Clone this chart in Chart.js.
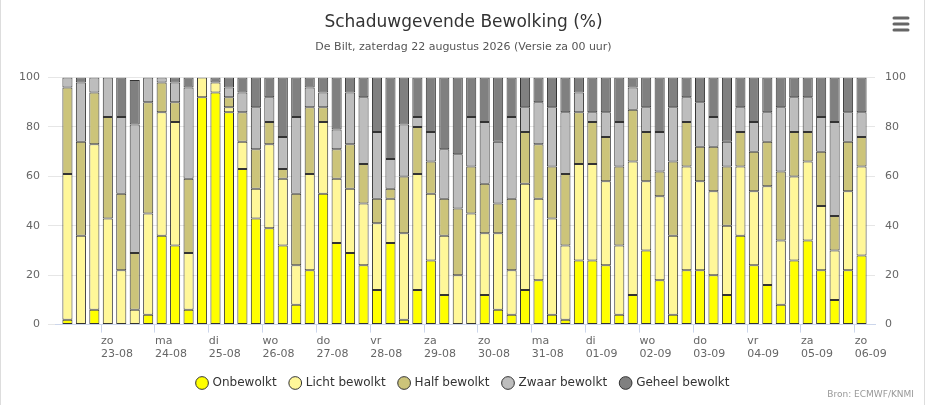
<!DOCTYPE html>
<html>
<head>
<meta charset="utf-8">
<script src="https://cdn.jsdelivr.net/npm/chart.js@4"></script>
<style>
    html, body { margin: 0; padding: 0; background: #fff; }
    #wrap { position: relative; width: 925px; height: 405px; box-sizing: border-box; border-left: 1px solid #ddd; border-right: 1px solid #ddd; }
    canvas { display: block; }
</style>
</head>
<body>
<div id="wrap"><canvas id="chart" width="923" height="405"></canvas></div>
<script>
// Day labels (tick between 18h and 00h bar)
const dayLabels = [
    ['zo', '23-08'], ['ma', '24-08'], ['di', '25-08'], ['wo', '26-08'], ['do', '27-08'],
    ['vr', '28-08'], ['za', '29-08'], ['zo', '30-08'], ['ma', '31-08'], ['di', '01-09'],
    ['wo', '02-09'], ['do', '03-09'], ['vr', '04-09'], ['za', '05-09'], ['zo', '06-09']
];
const yTicks = [0, 20, 40, 60, 80, 100];

// 6-hourly cloud cover (%) per class
const onbewolkt = [2,0,6,0,0,0,4,36,32,6, 92,94,86,63,43,39,32,8,22,53, 33,29,24,14,33,2,14,26,12,0,
                   0,12,6,4,14,18,4,2,26,26, 24,4,12,30,18,4,22,22,20,12, 36,24,16,8,26,34,22,10,22,28];
const licht     = [59,36,67,43,22,6,41,50,50,23, 8,4,2,11,12,34,27,16,39,29, 26,26,25,27,18,35,47,27,24,20,
                   45,25,31,18,43,33,39,30,39,39, 34,28,54,28,34,32,42,36,34,28, 28,30,40,26,34,32,26,20,32,36];
const half      = [35,38,21,41,31,23,45,12,8,30, 0,0,4,12,16,9,4,29,27,6, 12,18,16,10,4,23,19,13,15,27,
                   19,20,12,29,21,22,21,29,21,17, 18,32,21,20,10,30,18,14,18,24, 14,16,18,28,18,12,22,14,20,12];
const zwaar     = [4,24,6,16,31,52,10,2,8,37, 0,0,4,8,17,10,13,31,8,6, 8,21,27,27,12,21,4,12,20,22,
                   20,25,25,33,10,17,24,25,8,4, 10,18,9,10,16,22,10,18,12,10, 10,12,12,26,14,14,14,38,12,10];
const geheel    = [0,2,0,0,16,18,0,0,2,4, 0,2,4,6,12,8,24,16,4,6, 21,6,8,22,33,19,16,22,29,31,
                   16,18,26,16,12,10,12,14,6,14, 14,18,4,12,22,12,8,10,16,26, 12,18,14,12,8,8,16,18,14,14];

const dayTicks = dayLabels.map((_, i) => 2.5 + i * 4);

function series(label, values, color) {
    return {
        label,
        data: values.map((v, i) => ({ x: i, y: v })),
        backgroundColor: color,
        borderColor: '#333333',
        borderWidth: 1,
        borderSkipped: false,
        barPercentage: 0.75,
        categoryPercentage: 1
    };
}

const extras = {
    id: 'extras',
    afterDraw(chart) {
        const ctx = chart.ctx;
        ctx.save();
        ctx.fillStyle = '#999';
        ctx.font = '9px "DejaVu Sans"';
        ctx.textAlign = 'right';
        ctx.textBaseline = 'alphabetic';
        ctx.fillText('Bron: ECMWF/KNMI', 913, 397);
        // menu icon
        ctx.strokeStyle = '#666';
        ctx.lineWidth = 3;
        ctx.lineCap = 'round';
        [18, 24, 30].forEach(y => {
            ctx.beginPath(); ctx.moveTo(893, y); ctx.lineTo(907, y); ctx.stroke();
        });
        ctx.restore();
    }
};

const axisFont = { family: 'DejaVu Sans', size: 11 };

new Chart(document.getElementById('chart'), {
    type: 'bar',
    data: {
        datasets: [
            series('Onbewolkt', onbewolkt, '#ffff00'),
            series('Licht bewolkt', licht, '#fff799'),
            series('Half bewolkt', half, '#ccc47a'),
            series('Zwaar bewolkt', zwaar, '#bdbdbd'),
            series('Geheel bewolkt', geheel, '#808080')
        ]
    },
    options: {
        responsive: false,
        animation: false,
        layout: { padding: { left: 10, right: 8, top: 0, bottom: 6 } },
        plugins: {
            title: {
                display: true, text: 'Schaduwgevende Bewolking (%)',
                color: '#333', font: { family: 'DejaVu Sans', size: 17, weight: 'normal' },
                padding: { top: 12, bottom: 8 }
            },
            subtitle: {
                display: true, text: 'De Bilt, zaterdag 22 augustus 2026 (Versie za 00 uur)',
                color: '#555', font: { family: 'DejaVu Sans', size: 11 },
                padding: { bottom: 24 }
            },
            legend: {
                position: 'bottom',
                labels: {
                    color: '#333', font: { family: 'DejaVu Sans', size: 12 },
                    usePointStyle: true, pointStyle: 'circle', boxWidth: 9, boxHeight: 9, padding: 14
                }
            },
            tooltip: { enabled: false }
        },
        scales: {
            x: {
                type: 'linear', stacked: true, min: -0.85, max: 60, offset: false,
                afterBuildTicks: s => { s.ticks = dayTicks.map(v => ({ value: v })); },
                border: { color: '#ccd6eb' },
                grid: { drawOnChartArea: false, color: '#ccd6eb', tickLength: 8, offset: false },
                ticks: {
                    color: '#666', font: axisFont, align: 'start', padding: 2, maxRotation: 0,
                    callback: (v) => { const i = dayTicks.indexOf(v); return i >= 0 ? dayLabels[i] : ''; }
                }
            },
            y: {
                stacked: true, min: 0, max: 100, position: 'left',
                afterBuildTicks: s => { s.ticks = yTicks.map(v => ({ value: v })); },
                border: { display: false },
                grid: { color: '#e6e6e6' },
                ticks: { color: '#666', font: axisFont, padding: 8 }
            },
            y2: {
                min: 0, max: 100, position: 'right',
                afterBuildTicks: s => { s.ticks = yTicks.map(v => ({ value: v })); },
                border: { display: false },
                grid: { drawOnChartArea: false, drawTicks: false },
                ticks: { color: '#666', font: axisFont, padding: 10 }
            }
        }
    },
    plugins: [extras]
});
</script>
</body>
</html>
